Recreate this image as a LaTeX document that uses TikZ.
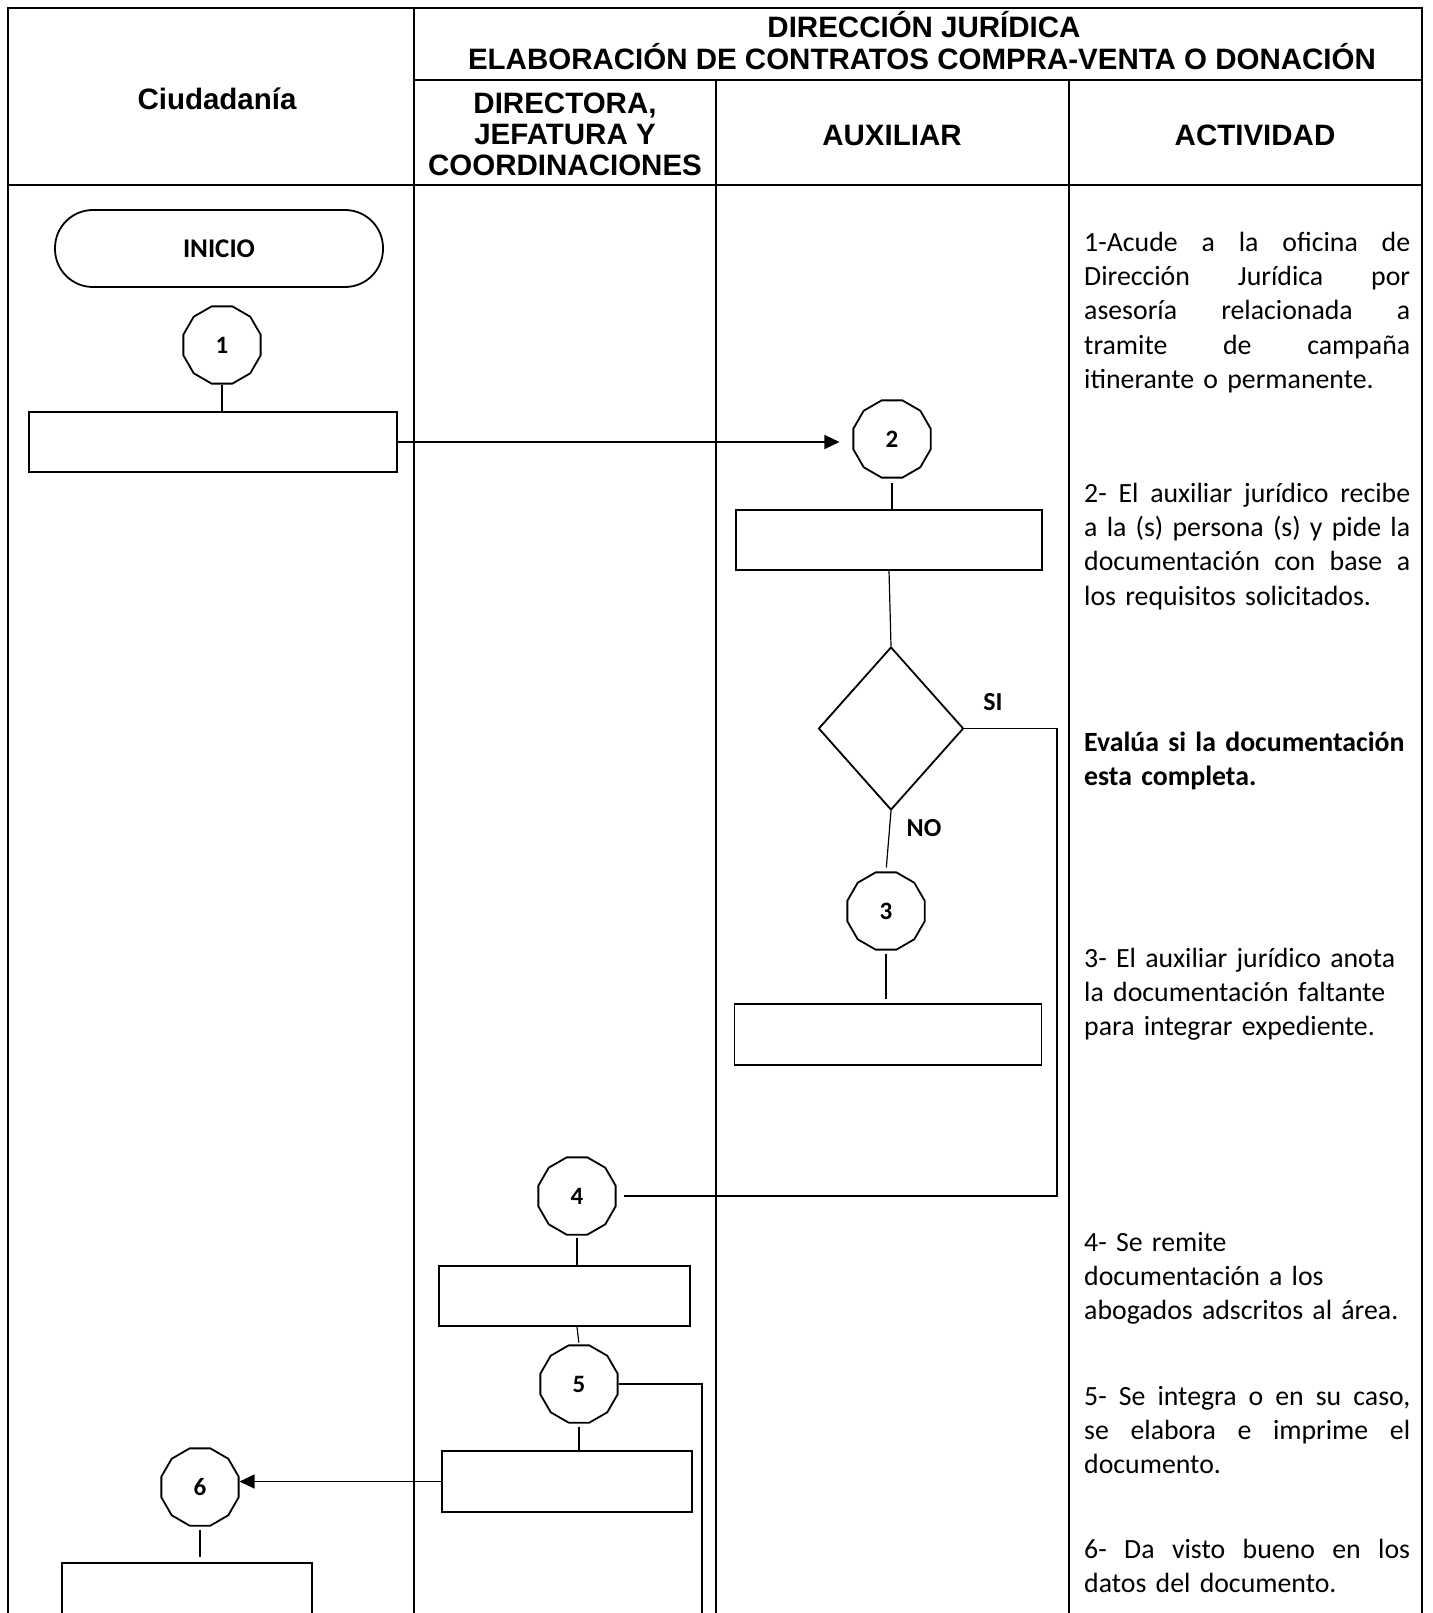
\documentclass[tikz,border=0pt]{standalone}
\usepackage{fontspec}
\setmainfont{Carlito}
\newfontfamily\hdr{Liberation Sans}
\usetikzlibrary{shapes.geometric,arrows.meta}
\newcommand{\jline}[1]{\hbox to 326pt{\spaceskip=0.226em plus 10em minus 0.02em\relax #1}}
\begin{document}
\begin{tikzpicture}[x=1pt,y=-1pt,
  tbl/.style={line width=2.8pt},
  conn/.style={regular polygon, regular polygon sides=12, draw, line width=1.8pt,
    minimum size=80pt, inner sep=0pt, font=\fontsize{25}{30}\selectfont\bfseries},
  procbox/.style={rectangle, draw, line width=1.2pt, inner sep=0pt},
  link/.style={line width=1.2pt},
  arr/.style={link, -{Triangle[length=15pt,width=14pt]}},
  actv/.style={anchor=north west, inner sep=0pt, text width=326pt, align=left,
    font=\fontsize{27.8}{34.3}\selectfont},
  hd/.style={font=\hdr\bfseries\fontsize{29.5}{34}\selectfont, anchor=base, inner sep=0pt},
  lbl/.style={font=\fontsize{26}{30}\selectfont\bfseries, inner sep=0pt}
]
\useasboundingbox (0,0) rectangle (1432,1613);
\clip (0,0) rectangle (1432,1613);

% table grid
\draw[tbl] (8,1630) -- (8,8) -- (1422,8) -- (1422,1630);
\draw[tbl] (414,8) -- (414,1630);
\draw[tbl] (414,80) -- (1422,80);
\draw[tbl] (716,80) -- (716,1630);
\draw[tbl] (1069,80) -- (1069,1630);
\draw[tbl] (8,185) -- (1422,185);

% headers
\node[hd] (h1) at (924,38) {DIRECCIÓN JURÍDICA};
\node[hd] (h2) at (922,69.5) {ELABORACIÓN DE CONTRATOS COMPRA-VENTA O DONACIÓN};
\node[hd] (h3) at (217,110) {Ciudadanía};
\node[hd] (h4a) at (565,114) {DIRECTORA,};
\node[hd] (h4b) at (565,145) {JEFATURA Y};
\node[hd] (h4c) at (565,176) {COORDINACIONES};
\node[hd] (h5) at (892,146) {AUXILIAR};
\node[hd] (h6) at (1255,146) {ACTIVIDAD};

% flow nodes
\node[draw, line width=1.8pt, rectangle, rounded corners=38pt, minimum width=328pt,
  minimum height=77pt, font=\fontsize{27}{30}\selectfont\bfseries] (inicio) at (219,248.5) {INICIO};
\node[conn] (c1) at (222,345) {1};
\node[procbox, minimum width=368pt, minimum height=60pt] (r1) at (213,442) {};
\node[conn] (c2) at (892,439) {2};
\node[procbox, minimum width=306pt, minimum height=60pt] (r2) at (889,540) {};
\node[diamond, draw, line width=1.8pt, minimum width=145pt, minimum height=163pt, inner sep=0pt] (d) at (891,728.5) {};
\node[lbl] (si) at (993,702) {SI};
\node[lbl] (no) at (924,828) {NO};
\node[conn] (c3) at (886,911) {3};
\node[procbox, minimum width=307pt, minimum height=61pt] (r3) at (888,1034.5) {};
\node[conn] (c4) at (577,1196) {4};
\node[procbox, minimum width=251pt, minimum height=60pt] (r4) at (564.5,1296) {};
\node[conn] (c5) at (579,1384) {5};
\node[procbox, minimum width=250pt, minimum height=61pt] (r5) at (567,1481.5) {};
\node[conn] (c6) at (200,1487) {6};
\node[procbox, minimum width=250pt, minimum height=80pt] (r6) at (187,1603) {};

\coordinate (sicol) at (1057,0);
\coordinate (c5col) at (702,0);
\coordinate (c5end) at (702,1630);

% connectors
\draw[link] (c1.south) -- (c1.south |- r1.north);
\draw[arr, shorten >=13pt] (r1.east) -- (r1.east -| c2.west);
\draw[link, shorten <=4pt] (c2.south) -- (c2.south |- r2.north);
\draw[link] (r2.south) -- (d.north);
\draw[link] (d.east) -- (d.east -| sicol) -- (sicol |- c4.east) -- ([xshift=7pt]c4.east);
\draw[link, shorten >=4pt] (d.south) -- (c3.north);
\draw[link, shorten <=3pt, shorten >=4pt] (c3.south) -- (c3.south |- r3.north);
\draw[link, shorten <=2pt] (c4.south) -- (c4.south |- r4.north);
\draw[link, shorten >=2pt] (r4.south -| c4.south) -- (c5.north);
\draw[link] (c5.east) -- (c5.east -| c5col) -- (c5end);
\draw[link, shorten <=3pt] (c5.south) -- (c5.south |- r5.north);
\draw[arr] (r5.west) -- (r5.west -| c6.east);
\draw[link, shorten <=3pt, shorten >=5pt] (c6.south) -- (c6.south |- r6.north);

% activity texts
\node[actv] (p1) at (1084,227) {%
\strut\jline{1-Acude a la oficina de}\\
\strut\jline{Dirección Jurídica por}\\
\strut\jline{asesoría relacionada a}\\
\strut\jline{tramite de campaña}\\
\strut\mbox{itinerante o permanente.}};
\node[actv] (p2) at (1084,478) {%
\strut\jline{2- El auxiliar jurídico recibe}\\
\strut\jline{a la (s) persona (s) y pide la}\\
\strut\jline{documentación con base a}\\
\strut\mbox{los requisitos solicitados.}};
\node[actv, font=\fontsize{27.8}{34.3}\selectfont\bfseries] (pe) at (1084,727) {%
\strut\mbox{Evalúa si la documentación}\\
\strut\mbox{esta completa.}};
\node[actv] (p3) at (1084,943) {%
\strut\mbox{3- El auxiliar jurídico anota}\\
\strut\mbox{la documentación faltante}\\
\strut\mbox{para integrar expediente.}};
\node[actv] (p4) at (1084,1227) {%
\strut\mbox{4- Se remite}\\
\strut\mbox{documentación a los}\\
\strut\mbox{abogados adscritos al área.}};
\node[actv] (p5) at (1084,1381) {%
\strut\jline{5- Se integra o en su caso,}\\
\strut\jline{se elabora e imprime el}\\
\strut\mbox{documento.}};
\node[actv] (p6) at (1084,1534) {%
\strut\jline{6- Da visto bueno en los}\\
\strut\mbox{datos del documento.}};
\end{tikzpicture}
\end{document}
